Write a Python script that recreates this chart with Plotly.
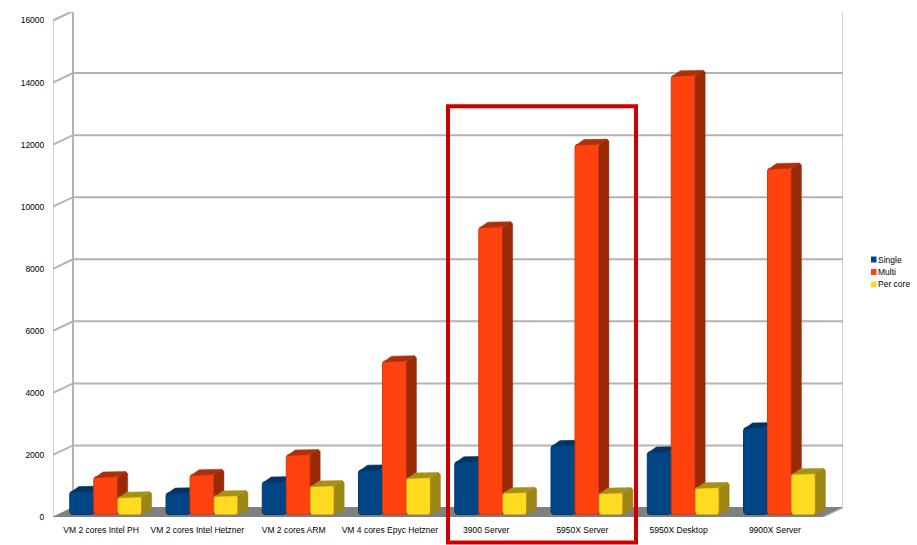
import plotly.graph_objects as go

categories = ["VM 2 cores Intel PH", "VM 2 cores Intel Hetzner", "VM 2 cores ARM", "VM 4 cores Epyc Hetzner",
              "3900 Server", "5950X Server", "5950X Desktop", "9900X Server"]
single = [750, 700, 1060, 1440, 1710, 2230, 2025, 2800]
multi = [1220, 1290, 1930, 4950, 9270, 11930, 14150, 11160]
per_core = [570, 610, 930, 1190, 715, 700, 870, 1320]
y_ticks = [0, 2000, 4000, 6000, 8000, 10000, 12000, 14000, 16000]

W, H = 917, 545
L, R, T, B = 53, 843, 11.5, 517.5      # plot area in pixels
PX_CAT = 96.25                         # pixels per category
PX_VAL = 497.5 / 16000                 # pixels per value unit
FONT = "Liberation Sans"
GRID = "#b3b3b3"

def dx(px): return px / PX_CAT
def dy(px): return px / PX_VAL
def pap_x(px): return (px - L) / (R - L)
def pap_y(px): return (B - px) / (B - T)

x_lo, x_hi = -0.5, -0.5 + (R - L) / PX_CAT
y_hi = (B - T) / PX_VAL
wall_dx, wall_dy = dx(20), dy(9.5)
bar_w = dx(23.9)
bar_dx, bar_base = dx(4.6), dy(2.5)
ext_dx, ext_dy = dx(10), dy(5.2)

series = [
    ("Single", single, -1, "#004586", "#003a70", "#002c57", "#003465"),
    ("Multi", multi, 0, "#ff420e", "#d9380c", "#9a2a08", "#ad300a"),
    ("Per core", per_core, 1, "#ffdb20", "#d4ae14", "#9d8615", "#a89016"),
]

fig = go.Figure()

# floor, walls and grid, drawn on the depth-shifted back plane
fig.add_trace(go.Scatter(
    x=[x_lo, x_lo + wall_dx, x_hi, x_hi - wall_dx, x_lo], y=[0, wall_dy, wall_dy, 0, 0],
    mode="lines", fill="toself", fillcolor="#808080", line=dict(color="#808080", width=1),
    hoverinfo="skip", showlegend=False, xaxis="x", yaxis="y"))
gx, gy = [], []
for v in y_ticks[1:]:
    gx += [x_lo, x_lo + wall_dx, x_hi, None]
    gy += [v, v + wall_dy, v + wall_dy, None]
fig.add_trace(go.Scatter(x=gx, y=gy, mode="lines", line=dict(color=GRID, width=2), cliponaxis=False,
                         hoverinfo="skip", showlegend=False))
fig.add_trace(go.Scatter(x=[x_lo + wall_dx] * 2, y=[wall_dy, 16000 + wall_dy], mode="lines",
                         line=dict(color=GRID, width=2), cliponaxis=False, hoverinfo="skip", showlegend=False))
fig.add_trace(go.Scatter(x=[x_lo, x_lo, None, x_hi, x_hi, x_hi - wall_dx],
                         y=[0, 16000, None, 16000 + wall_dy, wall_dy, 0], mode="lines",
                         line=dict(color=GRID, width=1.2), cliponaxis=False, hoverinfo="skip", showlegend=False))

# one overlaid subplot per series so each front hides the previous series' side
for n, (name, vals, pos, col, edge, side_col, top_col) in enumerate(series):
    ax = str(n + 2)
    centers = [i + bar_dx + pos * dx(24) for i in range(len(vals))]
    fig.add_trace(go.Bar(x=centers, y=vals, base=[bar_base] * len(vals), width=bar_w, name=name,
                         marker=dict(color=col, cornerradius=3, line=dict(color=edge, width=1)),
                         showlegend=False, xaxis="x" + ax, yaxis="y" + ax))
    sx, sy, tx, ty = [], [], [], []
    cut_x, cut_y = dx(2), dy(2)
    for c, v in zip(centers, vals):
        right, left = c + bar_w / 2, c - bar_w / 2
        top = v + bar_base
        sx += [right, right, right + ext_dx - cut_x, right + ext_dx, right + ext_dx, right, None]
        sy += [bar_base, top, top + ext_dy, top + ext_dy - cut_y, bar_base + ext_dy, bar_base, None]
        tx += [left + dx(1), left + dx(1) + ext_dx - cut_x, right + ext_dx - cut_x, right, left + dx(1), None]
        ty += [top - cut_y / 2, top + ext_dy - cut_y / 4, top + ext_dy, top, top - cut_y / 2, None]
    for px_, py_, c_ in ((sx, sy, side_col), (tx, ty, top_col)):
        fig.add_trace(go.Scatter(x=px_, y=py_, mode="lines", fill="toself", fillcolor=c_,
                                 line=dict(color=c_, width=0.5), hoverinfo="skip", showlegend=False,
                                 xaxis="x" + ax, yaxis="y" + ax))

shapes = [dict(type="rect", xref="paper", yref="paper", x0=pap_x(448), x1=pap_x(636), y0=pap_y(106), y1=pap_y(543),
               line=dict(color="#cc0000", width=4), fillcolor="rgba(0,0,0,0)", layer="above")]
annotations = []
for (name, _, _, col, *_), py in zip(series, (259.5, 272, 284.5)):
    shapes.append(dict(type="rect", xref="paper", yref="paper", x0=pap_x(871), x1=pap_x(876.5),
                       y0=pap_y(py - 3), y1=pap_y(py + 3), fillcolor=col, line=dict(width=0)))
    annotations.append(dict(text=name, xref="paper", yref="paper", x=pap_x(876), y=pap_y(py), xanchor="left",
                            yanchor="middle", showarrow=False, font=dict(family=FONT, size=8.5, color="#000000")))

layout = dict(
    width=W, height=H, margin=dict(l=L, r=W - R, t=T, b=H - B, pad=0, autoexpand=False),
    paper_bgcolor="white", plot_bgcolor="white", barmode="overlay", showlegend=False,
    xaxis=dict(range=[x_lo, x_hi], tickmode="array", tickvals=list(range(len(categories))), ticktext=categories,
               showgrid=False, zeroline=False, showline=False, ticks="outside", ticklen=5,
               tickcolor="rgba(0,0,0,0)", tickfont=dict(family=FONT, size=8.5, color="#000000")),
    yaxis=dict(range=[0, y_hi], tickmode="array", tickvals=y_ticks, ticktext=[str(v) for v in y_ticks],
               showgrid=False, zeroline=False, showline=False, ticks="outside", ticklen=6,
               tickcolor="rgba(0,0,0,0)", tickfont=dict(family=FONT, size=8.5, color="#000000")),
    shapes=shapes, annotations=annotations,
)
for n in (2, 3, 4):
    layout[f"xaxis{n}"] = dict(range=[x_lo, x_hi], overlaying="x", visible=False, matches="x")
    layout[f"yaxis{n}"] = dict(range=[0, y_hi], overlaying="y", visible=False, matches="y")
fig.update_layout(**layout)
fig.write_html("out.html", config=dict(displayModeBar=False),
               post_script="document.body.style.margin='0';document.documentElement.style.overflow='hidden';")
